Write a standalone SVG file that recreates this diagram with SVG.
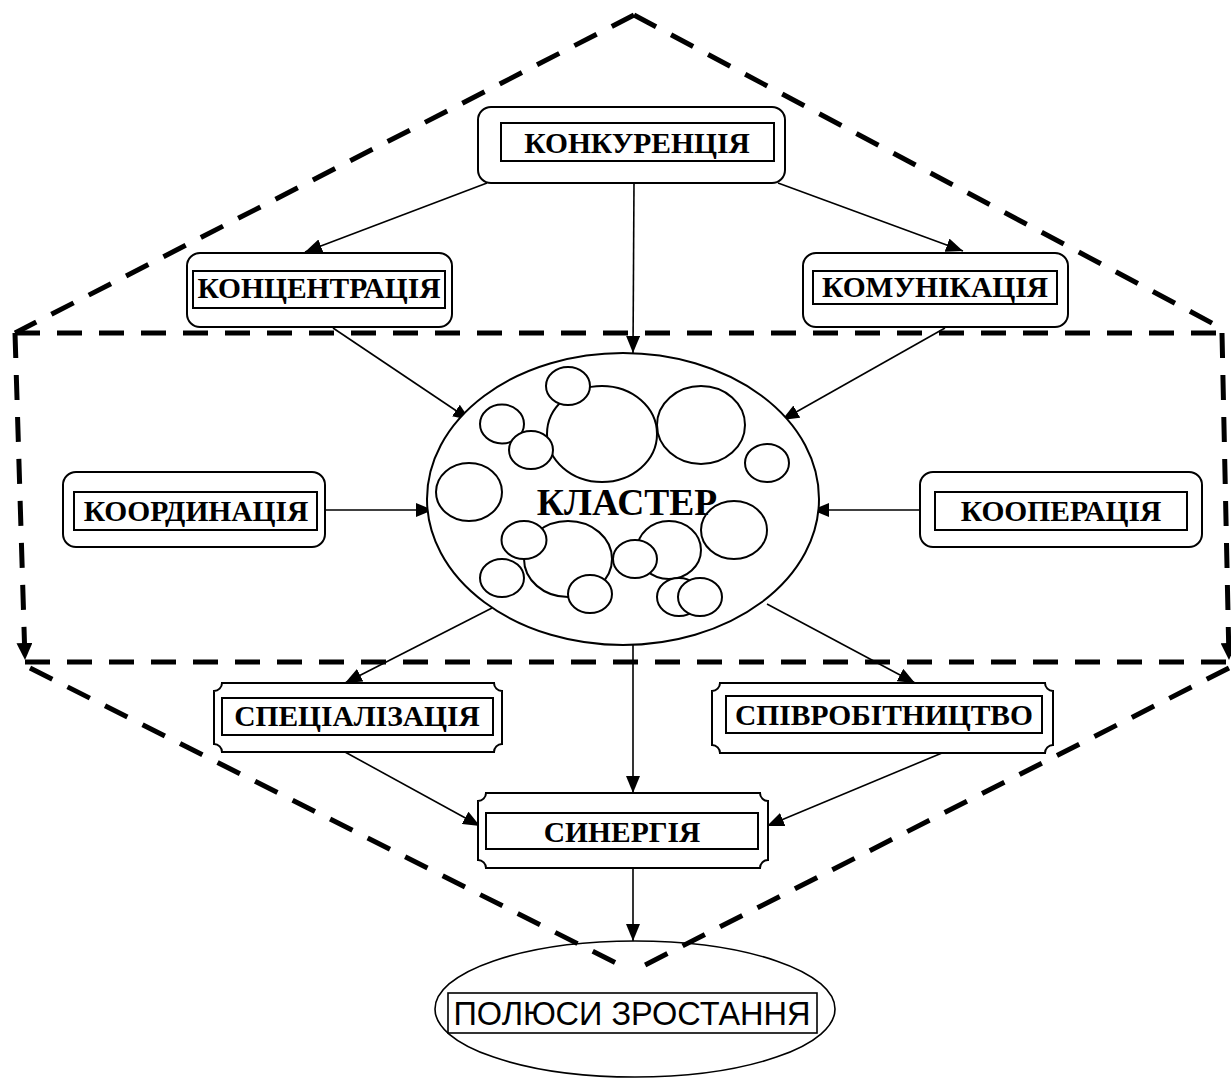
<svg xmlns="http://www.w3.org/2000/svg" width="1231" height="1081" viewBox="0 0 1231 1081">
<style>
.box{fill:#fff;stroke:#000;stroke-width:2}
.inner{fill:none;stroke:#000;stroke-width:2}
.t{font-family:"Liberation Serif","Times New Roman",serif;font-weight:bold;font-size:29.5px;text-anchor:middle;fill:#000}
.c{fill:#fff;stroke:#000;stroke-width:2}
.dash{fill:none;stroke:#000;stroke-width:5;stroke-dasharray:25 17}
.conn line{stroke:#000;stroke-width:1.6;marker-end:url(#arr)}
</style>
<defs>
<marker id="arr" markerUnits="userSpaceOnUse" markerWidth="18" markerHeight="14" refX="17" refY="7" orient="auto">
<path d="M0,0 L17,7 L0,14 Z" fill="#000"/>
</marker>
<marker id="darr" markerUnits="userSpaceOnUse" markerWidth="18" markerHeight="16" refX="17" refY="8" orient="auto">
<path d="M0,0 L17,8 L0,16 Z" fill="#000"/>
</marker>
</defs>
<rect width="1231" height="1081" fill="#fff"/>

<g id="frame">
<path class="dash" d="M634,15 L15,333"/>
<path class="dash" d="M634,15 L1225,330"/>
<path class="dash" d="M15,333 H1222"/>
<path class="dash" d="M15,333 L25,660" marker-end="url(#darr)"/>
<path class="dash" d="M1222,333 L1229,660" marker-end="url(#darr)"/>
<path class="dash" d="M25,662 H1229"/>
<path class="dash" d="M30,668 L622,966"/>
<path class="dash" d="M1229,668 L643,966"/>
</g>

<g class="conn" id="connectors">
<line x1="487" y1="183" x2="305" y2="252"/>
<line x1="778" y1="183" x2="963" y2="251"/>
<line x1="634" y1="183" x2="633" y2="353"/>
<line x1="333" y1="328" x2="470" y2="420"/>
<line x1="945" y1="328" x2="782" y2="420"/>
<line x1="325" y1="510" x2="433" y2="510"/>
<line x1="920" y1="510" x2="812" y2="510"/>
<line x1="492" y1="608" x2="345" y2="683"/>
<line x1="767" y1="604" x2="915" y2="683"/>
<line x1="633" y1="644" x2="633" y2="793"/>
<line x1="345" y1="752" x2="480" y2="826"/>
<line x1="942" y1="753" x2="767" y2="826"/>
<line x1="633" y1="868" x2="633" y2="941"/>
</g>

<g id="konkurentsiia">
<rect class="box" x="478" y="107" width="307" height="76" rx="13"/>
<rect class="inner" x="501" y="123" width="273" height="38"/>
<text class="t" x="637" y="153">КОНКУРЕНЦІЯ</text>
</g>

<g id="kontsentratsiia">
<rect class="box" x="187" y="253" width="265" height="74" rx="13"/>
<rect class="inner" x="193" y="271" width="252" height="37"/>
<text class="t" x="319" y="298">КОНЦЕНТРАЦІЯ</text>
</g>

<g id="komunikatsiia">
<rect class="box" x="803" y="253" width="265" height="74" rx="13"/>
<rect class="inner" x="813" y="271" width="244" height="33"/>
<text class="t" x="935" y="297">КОМУНІКАЦІЯ</text>
</g>

<g id="koordynatsiia">
<rect class="box" x="63" y="472" width="262" height="75" rx="13"/>
<rect class="inner" x="74" y="492" width="243" height="38"/>
<text class="t" x="196" y="521">КООРДИНАЦІЯ</text>
</g>

<g id="kooperatsiia">
<rect class="box" x="920" y="472" width="282" height="75" rx="13"/>
<rect class="inner" x="935" y="492" width="252" height="38"/>
<text class="t" x="1061" y="521">КООПЕРАЦІЯ</text>
</g>

<g id="klaster">
<ellipse class="c" cx="623" cy="499" rx="196" ry="146"/>
<ellipse class="c" cx="602" cy="434" rx="55" ry="48"/>
<ellipse class="c" cx="568" cy="386" rx="22" ry="19"/>
<ellipse class="c" cx="701" cy="425" rx="44" ry="39"/>
<ellipse class="c" cx="502" cy="424" rx="22" ry="19.5"/>
<ellipse class="c" cx="531" cy="450" rx="22" ry="19"/>
<ellipse class="c" cx="767" cy="463" rx="22" ry="19"/>
<ellipse class="c" cx="469" cy="492" rx="33" ry="29"/>
<ellipse class="c" cx="734" cy="530" rx="33" ry="29"/>
<ellipse class="c" cx="568" cy="559" rx="44" ry="38"/>
<ellipse class="c" cx="524" cy="540" rx="22.5" ry="19"/>
<ellipse class="c" cx="502" cy="578" rx="22" ry="19"/>
<ellipse class="c" cx="590" cy="594" rx="22" ry="19"/>
<ellipse class="c" cx="669" cy="550" rx="32" ry="29"/>
<ellipse class="c" cx="635" cy="559" rx="22" ry="19"/>
<ellipse class="c" cx="679" cy="597" rx="22" ry="19"/>
<ellipse class="c" cx="700" cy="597" rx="22" ry="19"/>
<text class="t" x="627" y="515" style="font-size:37.5px">КЛАСТЕР</text>
</g>

<g id="spetsializatsiia">
<path class="box" d="M222,683 H494 A8,8 0 0 0 502,691 V744 A8,8 0 0 0 494,752 H222 A8,8 0 0 0 214,744 V691 A8,8 0 0 0 222,683 Z"/>
<rect class="inner" x="222" y="698" width="271" height="37"/>
<text class="t" x="357" y="726">СПЕЦІАЛІЗАЦІЯ</text>
</g>

<g id="spivrobitnytstvo">
<path class="box" d="M720,683 H1045 A8,8 0 0 0 1053,691 V745 A8,8 0 0 0 1045,753 H720 A8,8 0 0 0 712,745 V691 A8,8 0 0 0 720,683 Z"/>
<rect class="inner" x="726" y="696" width="316" height="37"/>
<text class="t" x="884" y="725">СПІВРОБІТНИЦТВО</text>
</g>

<g id="synerhiia">
<path class="box" d="M486,793 H760 A8,8 0 0 0 768,801 V860 A8,8 0 0 0 760,868 H486 A8,8 0 0 0 478,860 V801 A8,8 0 0 0 486,793 Z"/>
<rect class="inner" x="486" y="813" width="272" height="36"/>
<text class="t" x="622" y="842">СИНЕРГІЯ</text>
</g>

<g id="polyusy">
<ellipse fill="none" stroke="#000" stroke-width="1.6" cx="635" cy="1009" rx="200" ry="68"/>
<rect fill="none" stroke="#000" stroke-width="1.6" x="448" y="993" width="369" height="40"/>
<text x="632" y="1025" style="font-family:'Liberation Sans',Arial,sans-serif;font-size:32.5px;text-anchor:middle">ПОЛЮСИ ЗРОСТАННЯ</text>
</g>
</svg>
